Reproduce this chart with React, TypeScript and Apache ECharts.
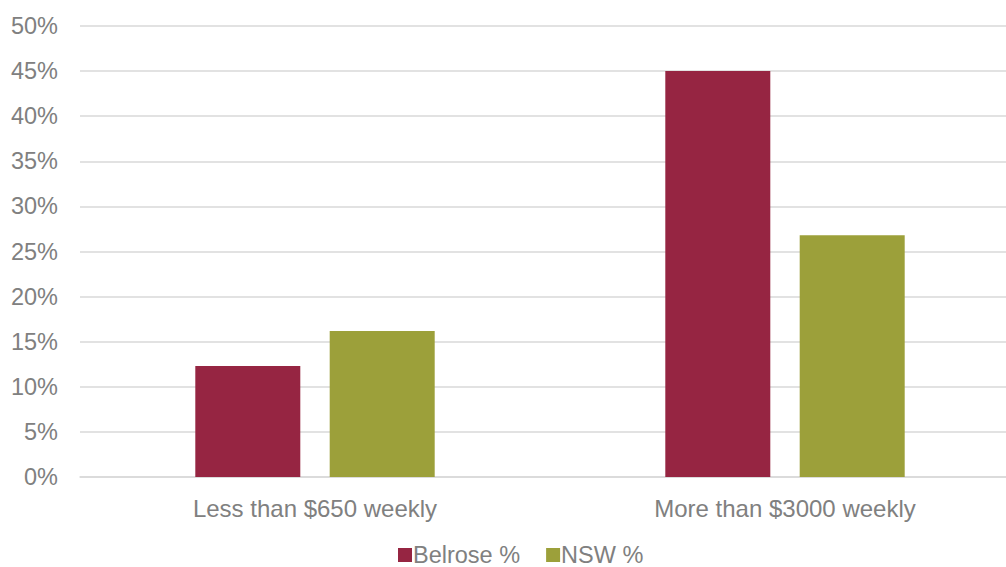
import React, { useEffect, useRef } from "react";
import * as echarts from "echarts";

const categories = ["Less than $650 weekly", "More than $3000 weekly"];
const belrose = [12.3, 45.0];
const nsw = [16.2, 26.8];
const seriesNames = ["Belrose %", "NSW %"];

export default function App() {
  const ref = useRef<HTMLDivElement>(null);
  useEffect(() => {
    if (!ref.current) return;
    const chart = echarts.init(ref.current, undefined, { renderer: "svg" });
    const font = "'Liberation Sans', Arial, sans-serif";
    chart.setOption({
      animation: false,
      textStyle: { fontFamily: font },
      grid: { left: 80, right: 0, top: 26, bottom: 90, containLabel: false },
      legend: {
        top: 543,
        left: 398,
        padding: 0,
        itemWidth: 14,
        itemHeight: 14,
        itemGap: 26,
        icon: "rect",
        textStyle: {
          color: "#808080",
          fontSize: 23.5,
          lineHeight: 24,
          fontFamily: font,
          padding: [0, 0, 0, -4],
        },
        data: seriesNames,
      },
      xAxis: {
        type: "category",
        data: categories,
        axisLine: { lineStyle: { color: "#d9d9d9", width: 1.5 } },
        axisTick: { show: false },
        axisLabel: { color: "#808080", fontSize: 24, margin: 19, fontFamily: font },
      },
      yAxis: {
        type: "value",
        min: 0,
        max: 50,
        interval: 5,
        axisLabel: { color: "#808080", fontSize: 23.5, margin: 22, formatter: "{value}%", fontFamily: font },
        splitLine: { lineStyle: { color: "#d9d9d9", width: 1.5 } },
        axisLine: { show: false },
        axisTick: { show: false },
      },
      series: [
        {
          name: seriesNames[0],
          type: "bar",
          data: belrose,
          barWidth: 105,
          barGap: "28%",
          itemStyle: { color: "#962542" },
        },
        {
          name: seriesNames[1],
          type: "bar",
          data: nsw,
          barWidth: 105,
          itemStyle: { color: "#9ca03a" },
        },
      ],
    });
    return () => chart.dispose();
  }, []);
  return (
    <div
      style={{ position: "fixed", left: 0, top: 0, width: 1006, height: 567, background: "#fff", overflow: "hidden" }}
    >
      <div ref={ref} style={{ width: 1020, height: 567 }} />
    </div>
  );
}
